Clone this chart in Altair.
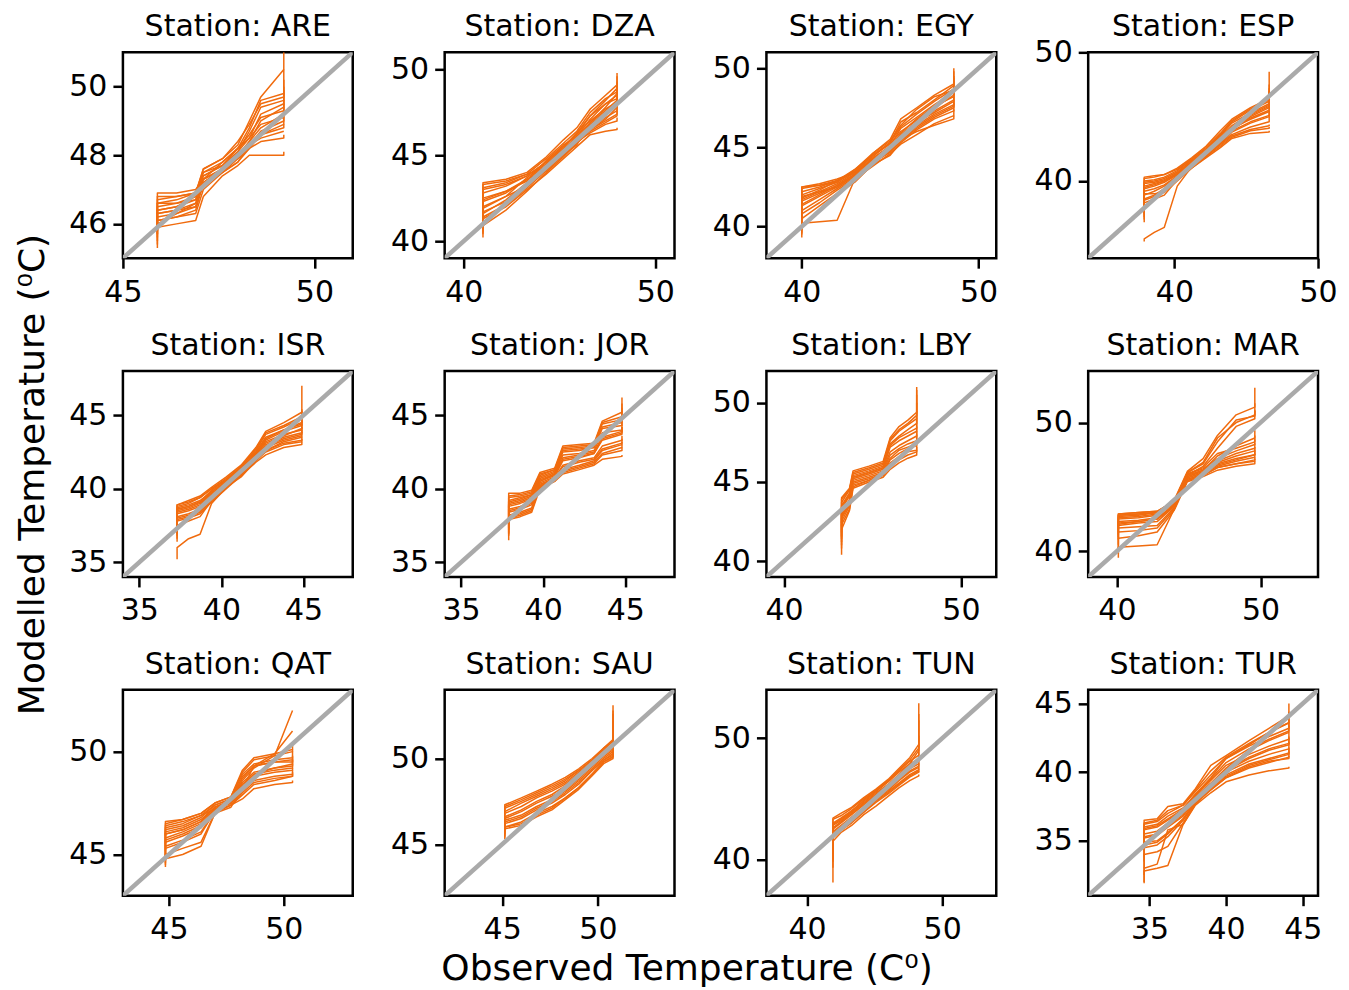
import altair as alt
import pandas as pd

ORANGE = "#f06b0e"
GREY = "#aaaaaa"
FONT = "DejaVu Sans"

STATIONS = ["ARE", "DZA", "EGY", "ESP", "ISR", "JOR", "LBY", "MAR", "QAT", "SAU", "TUN", "TUR"]
X_TITLE = "Observed Temperature (C\u2070)"
Y_TITLE = "Modelled Temperature (\u2070C)"

# ---------------- ARE ----------------
ARE_LIM = [45, 51]
ARE_XTICKS = [45, 50]
ARE_YTICKS = [46, 48, 50]
ARE_X = [45.9, 45.9, 46.4, 46.9, 47.1, 47.6, 48.0, 48.3, 48.6, 49.2, 49.2]
ARE_Y = [
    [45.3, 46.1, 46.2, 46.4, 47.2, 47.5, 47.8, 48.2, 48.6, 48.9, 49.4],
    [45.8, 46.3, 46.4, 46.6, 47.3, 47.6, 47.9, 48.4, 49.0, 49.4, 49.8],
    [46.1, 46.5, 46.6, 46.7, 47.4, 47.7, 48.1, 48.7, 49.4, 49.6, 50.2],
    [46.0, 46.9, 46.9, 47.0, 47.3, 47.8, 48.2, 48.8, 49.6, 49.8, 50.5],
    [45.6, 45.9, 46.0, 46.1, 46.8, 47.4, 47.7, 48.0, 48.0, 48.0, 48.1],
    [46.2, 46.6, 46.7, 46.9, 47.5, 47.7, 48.2, 48.5, 48.9, 49.1, 49.2],
    [45.5, 46.2, 46.3, 46.5, 47.2, 47.6, 48.0, 48.3, 48.5, 48.7, 48.7],
    [46.3, 46.7, 46.8, 46.9, 47.6, 47.9, 48.3, 49.0, 49.7, 50.5, 51.0],
    [45.7, 46.4, 46.5, 46.8, 47.3, 47.6, 48.0, 48.4, 48.8, 49.2, 49.6],
    [45.9, 46.1, 46.2, 46.3, 47.0, 47.5, 47.9, 48.2, 48.4, 48.5, 48.6],
    [45.4, 46.0, 46.3, 46.6, 47.1, 47.5, 47.8, 48.3, 48.7, 49.0, 49.1],
    [46.0, 46.4, 46.5, 46.7, 47.5, 47.8, 48.2, 48.6, 49.1, 49.3, 49.5],
    [45.7, 46.6, 46.6, 46.8, 47.4, 47.7, 48.1, 48.5, 49.2, 49.5, 49.9],
    [46.1, 46.8, 46.8, 46.9, 47.6, 47.9, 48.4, 48.9, 49.5, 49.7, 50.0],
    [45.8, 46.3, 46.4, 46.5, 47.2, 47.6, 48.0, 48.3, 48.6, 48.8, 48.9],
]

# ---------------- DZA ----------------
DZA_LIM = [39, 51]
DZA_XTICKS = [40, 50]
DZA_YTICKS = [40, 45, 50]
DZA_X = [41.0, 41.0, 42.2, 43.3, 44.3, 45.2, 45.9, 46.6, 47.4, 48.0, 48.0]
DZA_Y = [
    [40.2, 40.9, 41.8, 42.9, 44.0, 44.9, 45.7, 46.4, 46.9, 47.3, 47.6],
    [40.6, 41.6, 42.4, 43.4, 44.4, 45.2, 46.0, 46.8, 47.5, 48.0, 48.6],
    [41.2, 42.3, 42.8, 43.6, 44.1, 45.0, 45.6, 46.9, 47.8, 48.6, 49.2],
    [41.8, 42.8, 43.2, 43.8, 44.6, 45.5, 46.2, 47.3, 48.2, 48.9, 49.8],
    [42.0, 43.3, 43.5, 43.9, 44.3, 45.3, 45.8, 46.3, 46.8, 47.0, 47.2],
    [40.9, 42.0, 42.6, 43.2, 44.2, 45.1, 45.9, 46.6, 47.2, 47.6, 48.1],
    [41.5, 42.5, 42.9, 43.5, 44.7, 45.6, 46.1, 47.1, 48.0, 48.3, 48.9],
    [40.4, 41.3, 42.0, 43.0, 43.9, 44.8, 45.5, 46.2, 46.4, 46.5, 46.6],
    [41.0, 41.9, 42.6, 43.7, 44.5, 45.4, 46.3, 47.0, 47.7, 48.1, 48.4],
    [42.2, 43.1, 43.4, 43.9, 44.8, 45.7, 46.4, 47.5, 48.3, 48.7, 49.3],
    [40.5, 41.4, 42.1, 43.1, 44.1, 45.0, 45.8, 46.5, 47.0, 47.4, 47.9],
    [41.4, 42.4, 42.9, 43.6, 44.4, 45.3, 46.1, 46.9, 47.6, 48.2, 48.7],
    [41.9, 43.0, 43.3, 43.8, 44.6, 45.5, 46.3, 47.3, 48.0, 48.5, 49.0],
    [40.7, 41.7, 42.3, 43.3, 44.2, 45.1, 45.7, 46.5, 47.1, 47.8, 48.3],
    [42.4, 43.4, 43.6, 44.0, 44.9, 45.9, 46.6, 47.7, 48.5, 49.1, 49.6],
]

# ---------------- EGY ----------------
EGY_LIM = [38, 51]
EGY_XTICKS = [40, 50]
EGY_YTICKS = [40, 45, 50]
EGY_X = [40.0, 40.0, 41.0, 42.0, 43.0, 44.0, 45.0, 45.6, 46.5, 47.5, 48.6, 48.6]
EGY_Y = [
    [39.3, 40.5, 41.3, 42.1, 42.8, 43.9, 44.5, 45.3, 46.1, 46.8, 47.3, 47.8],
    [39.8, 41.0, 41.7, 42.4, 43.1, 44.1, 44.9, 45.7, 46.5, 47.3, 48.0, 48.6],
    [40.4, 41.6, 42.1, 42.6, 43.3, 44.3, 45.1, 46.2, 46.9, 47.7, 48.5, 49.2],
    [41.0, 42.0, 42.4, 42.8, 43.5, 44.4, 45.3, 46.6, 47.2, 48.0, 48.9, 50.0],
    [41.5, 42.5, 42.7, 43.0, 43.4, 44.2, 44.8, 45.5, 46.0, 46.4, 46.8, 47.0],
    [40.1, 41.3, 41.9, 42.5, 43.2, 44.0, 44.7, 45.4, 46.3, 47.0, 47.6, 48.2],
    [40.7, 41.8, 42.3, 42.9, 43.6, 44.5, 45.2, 46.0, 46.7, 47.5, 48.3, 48.8],
    [39.5, 40.2, 40.3, 40.4, 43.0, 43.8, 44.6, 45.2, 45.8, 46.5, 47.0, 47.4],
    [41.2, 42.2, 42.5, 42.9, 43.4, 44.6, 45.4, 46.4, 47.4, 48.2, 48.6, 49.8],
    [40.2, 41.4, 42.0, 42.6, 43.3, 44.2, 44.9, 45.8, 46.6, 47.2, 47.9, 48.4],
    [39.6, 40.8, 41.5, 42.3, 43.0, 44.0, 44.8, 45.6, 46.4, 47.1, 47.7, 48.0],
    [40.5, 41.7, 42.2, 42.7, 43.4, 44.3, 45.0, 45.9, 46.8, 47.6, 48.2, 48.7],
    [41.3, 42.4, 42.6, 42.9, 43.5, 44.5, 45.3, 46.3, 47.1, 47.9, 48.7, 49.4],
    [40.9, 41.9, 42.2, 42.5, 43.2, 44.1, 44.7, 45.4, 46.2, 46.9, 47.5, 47.9],
    [42.0, 42.5, 42.6, 42.8, 43.6, 44.6, 45.5, 46.8, 47.5, 48.3, 49.0, 49.5],
]

# ---------------- ESP ----------------
ESP_LIM = [34, 50]
ESP_XTICKS = [40, 50]
ESP_YTICKS = [40, 50]
ESP_X = [37.9, 37.9, 38.6, 39.3, 40.2, 41.2, 42.2, 43.2, 44.0, 45.3, 46.6, 46.6]
ESP_Y = [
    [37.4, 38.9, 39.2, 39.6, 40.3, 41.2, 42.0, 42.9, 43.6, 44.2, 44.6, 45.0],
    [38.0, 39.4, 39.6, 39.9, 40.5, 41.4, 42.2, 43.2, 44.1, 44.8, 45.4, 46.0],
    [38.6, 39.9, 40.0, 40.2, 40.7, 41.6, 42.4, 43.5, 44.5, 45.3, 46.0, 47.0],
    [39.0, 40.2, 40.3, 40.5, 41.0, 41.8, 42.7, 43.9, 44.8, 45.7, 46.4, 48.5],
    [37.6, 39.0, 39.0, 39.1, 40.0, 41.0, 41.8, 42.6, 43.3, 43.7, 43.8, 43.9],
    [35.3, 35.5, 36.0, 36.4, 39.6, 41.1, 41.9, 42.9, 43.8, 44.5, 45.0, 45.5],
    [36.8, 38.3, 38.6, 38.9, 40.1, 41.3, 42.1, 43.1, 44.0, 45.0, 45.7, 46.3],
    [38.3, 39.6, 39.8, 40.0, 40.6, 41.5, 42.3, 43.3, 44.2, 45.1, 45.8, 46.5],
    [38.8, 40.0, 40.1, 40.3, 40.8, 41.7, 42.5, 43.6, 44.6, 45.5, 46.2, 47.5],
    [37.2, 38.6, 38.9, 39.4, 40.2, 41.1, 42.0, 42.8, 43.5, 44.0, 44.3, 44.4],
    [37.8, 39.2, 39.4, 39.7, 40.4, 41.3, 42.1, 43.0, 43.9, 44.6, 45.1, 45.4],
    [38.4, 39.8, 39.9, 40.1, 40.6, 41.5, 42.3, 43.4, 44.3, 45.2, 45.9, 46.4],
    [39.1, 40.3, 40.4, 40.5, 40.9, 41.7, 42.6, 43.7, 44.7, 45.6, 46.3, 47.2],
    [37.0, 38.5, 38.8, 39.2, 40.1, 41.0, 41.9, 42.7, 43.4, 43.9, 44.1, 44.2],
    [38.2, 39.5, 39.7, 40.0, 40.5, 41.4, 42.2, 43.2, 44.0, 44.9, 45.5, 45.8],
]

# ---------------- ISR ----------------
ISR_LIM = [34, 48]
ISR_XTICKS = [35, 40, 45]
ISR_YTICKS = [35, 40, 45]
ISR_X = [37.3, 37.3, 38.0, 38.7, 39.4, 40.3, 41.2, 42.1, 42.7, 43.8, 44.9, 44.9]
ISR_Y = [
    [36.6, 37.8, 38.0, 38.3, 39.1, 40.0, 40.9, 41.8, 42.3, 42.8, 43.0, 43.2],
    [37.2, 38.3, 38.5, 38.8, 39.5, 40.3, 41.1, 42.2, 43.0, 43.5, 43.8, 44.2],
    [37.8, 38.7, 38.9, 39.2, 39.8, 40.5, 41.4, 42.5, 43.5, 44.0, 44.4, 45.0],
    [38.3, 38.9, 39.2, 39.5, 40.1, 40.8, 41.6, 42.8, 43.9, 44.5, 45.2, 47.0],
    [35.2, 36.0, 36.6, 36.9, 39.0, 40.1, 40.8, 41.9, 42.6, 43.2, 43.5, 43.6],
    [36.9, 38.0, 38.2, 38.5, 39.3, 40.2, 41.0, 42.0, 42.8, 43.3, 43.6, 43.9],
    [37.5, 38.5, 38.7, 39.0, 39.7, 40.4, 41.3, 42.4, 43.3, 43.9, 44.3, 44.7],
    [38.0, 38.8, 39.0, 39.4, 40.0, 40.6, 41.5, 42.6, 43.7, 44.2, 44.8, 45.4],
    [36.4, 37.5, 37.8, 38.1, 39.2, 40.1, 41.0, 41.9, 42.5, 43.0, 43.2, 43.4],
    [37.6, 38.6, 38.8, 39.1, 39.9, 40.6, 41.4, 42.3, 43.2, 43.7, 44.0, 44.4],
    [37.0, 38.1, 38.3, 38.6, 39.4, 40.2, 41.0, 42.1, 42.9, 43.4, 43.7, 44.0],
    [37.7, 38.6, 38.8, 39.1, 39.8, 40.5, 41.3, 42.4, 43.4, 44.0, 44.5, 44.9],
    [38.2, 38.9, 39.1, 39.4, 40.0, 40.7, 41.5, 42.7, 43.8, 44.3, 44.9, 45.3],
    [36.8, 37.9, 38.1, 38.4, 39.2, 40.1, 40.9, 41.9, 42.6, 43.1, 43.3, 43.5],
    [37.4, 38.4, 38.6, 38.9, 39.6, 40.4, 41.2, 42.3, 43.1, 43.6, 44.1, 44.6],
]

# ---------------- JOR ----------------
JOR_LIM = [34, 48]
JOR_XTICKS = [35, 40, 45]
JOR_YTICKS = [35, 40, 45]
JOR_X = [37.9, 37.9, 38.6, 39.3, 39.8, 40.7, 41.2, 42.2, 43.1, 43.6, 44.8, 44.8]
JOR_Y = [
    [36.5, 37.9, 38.1, 38.4, 40.0, 40.5, 41.0, 41.3, 41.6, 42.0, 42.2, 42.3],
    [37.2, 38.4, 38.6, 38.9, 40.3, 40.7, 41.6, 41.9, 42.1, 42.9, 43.3, 43.6],
    [37.8, 38.9, 39.1, 39.4, 40.6, 41.0, 42.3, 42.4, 42.6, 43.8, 44.0, 44.5],
    [38.4, 39.4, 39.5, 39.7, 40.9, 41.3, 42.7, 42.8, 42.9, 44.4, 44.7, 45.5],
    [38.7, 39.7, 39.7, 39.9, 41.1, 41.4, 42.9, 43.0, 43.1, 44.6, 45.2, 46.2],
    [37.0, 38.2, 38.4, 38.7, 40.1, 40.6, 41.3, 41.6, 41.9, 42.6, 43.0, 43.2],
    [37.5, 38.6, 38.8, 39.1, 40.4, 40.8, 41.9, 42.1, 42.4, 43.3, 43.7, 44.0],
    [38.1, 39.1, 39.3, 39.6, 40.7, 41.1, 42.5, 42.6, 42.8, 44.1, 44.3, 44.9],
    [36.8, 38.0, 38.2, 38.5, 40.2, 40.6, 41.1, 41.4, 41.7, 42.3, 42.6, 42.8],
    [37.9, 39.0, 39.2, 39.5, 40.5, 41.0, 42.1, 42.3, 42.5, 43.5, 43.9, 44.2],
    [37.3, 38.5, 38.7, 39.0, 40.2, 40.7, 41.5, 41.8, 42.0, 42.7, 43.1, 43.4],
    [37.7, 38.8, 39.0, 39.3, 40.5, 40.9, 42.0, 42.2, 42.4, 43.4, 43.8, 44.2],
    [38.2, 39.2, 39.4, 39.6, 40.8, 41.2, 42.6, 42.7, 42.8, 44.2, 44.5, 45.0],
    [38.5, 39.5, 39.6, 39.8, 41.0, 41.3, 42.8, 42.9, 43.0, 44.5, 44.9, 45.8],
    [36.9, 38.1, 38.3, 38.6, 40.1, 40.5, 41.2, 41.5, 41.8, 42.4, 42.8, 43.0],
]

# ---------------- LBY ----------------
LBY_LIM = [39, 52]
LBY_XTICKS = [40, 50]
LBY_YTICKS = [40, 45, 50]
LBY_X = [43.25, 43.25, 43.7, 43.9, 44.8, 45.6, 46.0, 46.5, 47.0, 47.5, 47.5]
LBY_Y = [
    [40.4, 42.0, 43.2, 44.6, 45.0, 45.3, 45.8, 46.2, 46.5, 46.7, 47.0],
    [41.2, 42.8, 43.7, 45.0, 45.3, 45.6, 46.5, 47.0, 47.2, 47.4, 48.0],
    [41.8, 43.3, 44.1, 45.3, 45.6, 45.9, 47.2, 47.6, 47.9, 48.2, 49.0],
    [42.4, 43.7, 44.5, 45.6, 45.9, 46.2, 47.6, 48.2, 48.6, 49.0, 51.0],
    [41.0, 42.5, 43.5, 44.8, 45.1, 45.5, 46.2, 46.6, 46.9, 47.0, 47.3],
    [41.6, 43.0, 43.9, 45.2, 45.5, 45.8, 46.9, 47.3, 47.6, 47.9, 48.5],
    [42.2, 43.5, 44.3, 45.4, 45.7, 46.0, 47.4, 47.9, 48.3, 48.7, 50.5],
    [42.8, 44.0, 44.6, 45.7, 46.0, 46.3, 47.8, 48.5, 48.9, 49.4, 50.0],
    [40.8, 42.3, 43.3, 44.7, 45.1, 45.4, 46.0, 46.4, 46.7, 46.9, 47.2],
    [41.4, 42.9, 43.8, 45.1, 45.4, 45.7, 46.7, 47.1, 47.4, 47.6, 48.2],
    [42.0, 43.4, 44.2, 45.3, 45.6, 45.9, 47.3, 47.8, 48.1, 48.4, 49.5],
    [42.6, 43.9, 44.5, 45.5, 45.8, 46.1, 47.7, 48.3, 48.7, 49.2, 50.8],
    [41.5, 42.7, 43.6, 44.9, 45.2, 45.5, 46.4, 46.8, 47.1, 47.3, 47.6],
]

# ---------------- MAR ----------------
MAR_LIM = [38, 54]
MAR_XTICKS = [40, 50]
MAR_YTICKS = [40, 50]
MAR_X = [40.1, 40.1, 41.5, 42.8, 44.0, 44.9, 46.0, 47.0, 48.3, 49.6, 49.6]
MAR_Y = [
    [39.5, 41.0, 41.2, 41.5, 43.2, 45.4, 45.8, 46.3, 46.6, 46.8, 47.0],
    [40.5, 41.8, 41.9, 42.0, 43.4, 45.6, 46.0, 46.6, 47.0, 47.3, 47.6],
    [41.3, 42.3, 42.4, 42.6, 43.6, 45.8, 46.2, 46.9, 47.4, 47.8, 48.1],
    [41.8, 42.7, 42.8, 43.0, 43.8, 46.0, 46.4, 47.2, 47.8, 48.3, 48.7],
    [42.2, 42.9, 43.0, 43.1, 43.9, 46.1, 46.8, 48.5, 50.2, 50.5, 51.0],
    [41.6, 42.5, 42.6, 42.8, 43.7, 45.9, 46.6, 48.0, 49.7, 50.3, 51.5],
    [40.9, 42.0, 42.2, 42.3, 43.5, 45.7, 46.1, 46.8, 47.2, 47.5, 47.8],
    [39.8, 40.3, 40.4, 40.5, 43.3, 45.5, 45.9, 46.5, 46.8, 47.0, 47.2],
    [42.0, 42.8, 42.9, 43.0, 44.0, 46.2, 47.2, 49.0, 50.6, 51.2, 52.7],
    [41.0, 42.1, 42.3, 42.5, 43.6, 45.8, 46.3, 47.4, 48.2, 48.8, 49.4],
    [40.2, 41.5, 41.6, 41.8, 43.3, 45.5, 45.9, 46.5, 46.8, 47.1, 47.3],
    [41.1, 42.2, 42.3, 42.5, 43.5, 45.7, 46.1, 46.7, 47.1, 47.5, 47.9],
    [41.5, 42.6, 42.7, 42.9, 43.7, 45.9, 46.3, 47.0, 47.6, 48.0, 48.4],
    [42.1, 42.9, 43.0, 43.1, 43.9, 46.1, 46.9, 48.8, 50.0, 50.6, 50.9],
    [41.9, 42.8, 42.9, 43.0, 43.8, 46.0, 46.5, 47.6, 48.0, 48.5, 49.0],
]

# ---------------- QAT ----------------
QAT_LIM = [43, 53]
QAT_XTICKS = [45, 50]
QAT_YTICKS = [45, 50]
QAT_X = [44.85, 44.85, 45.6, 46.4, 47.0, 47.7, 48.2, 48.7, 49.6, 50.38, 50.38]
QAT_Y = [
    [44.4, 45.0, 45.3, 45.6, 47.0, 47.4, 47.7, 48.2, 48.4, 48.5, 48.6],
    [44.8, 45.6, 45.9, 46.3, 47.2, 47.5, 48.1, 48.6, 48.8, 48.9, 49.1],
    [45.2, 46.0, 46.2, 46.6, 47.3, 47.6, 48.5, 49.0, 49.2, 49.3, 49.6],
    [45.6, 46.3, 46.5, 46.9, 47.4, 47.7, 48.9, 49.4, 49.6, 49.7, 50.0],
    [46.0, 46.6, 46.7, 47.0, 47.5, 47.8, 49.1, 49.7, 49.9, 50.1, 50.3],
    [44.6, 45.3, 45.6, 46.0, 47.1, 47.4, 47.9, 48.4, 48.6, 48.8, 48.9],
    [45.4, 46.1, 46.3, 46.7, 47.3, 47.6, 48.6, 49.2, 49.8, 52.0, 52.0],
    [44.5, 44.8, 45.0, 45.4, 47.0, 47.3, 48.2, 49.3, 49.9, 51.0, 51.0],
    [45.8, 46.4, 46.6, 46.9, 47.2, 47.5, 48.8, 49.3, 49.5, 49.5, 49.6],
    [44.9, 45.7, 46.0, 46.4, 47.2, 47.5, 48.3, 48.8, 49.0, 49.1, 49.2],
    [44.7, 45.4, 45.7, 46.1, 47.1, 47.4, 48.0, 48.5, 48.7, 48.8, 49.0],
    [45.0, 45.8, 46.1, 46.5, 47.2, 47.5, 48.4, 48.9, 49.1, 49.2, 49.4],
    [45.5, 46.2, 46.4, 46.8, 47.4, 47.7, 48.7, 49.3, 49.5, 49.6, 49.8],
    [45.9, 46.5, 46.7, 47.0, 47.5, 47.8, 49.0, 49.6, 49.8, 50.0, 50.1],
    [45.3, 46.0, 46.2, 46.6, 47.3, 47.6, 48.4, 48.9, 49.2, 49.4, 49.7],
]

# ---------------- SAU ----------------
SAU_LIM = [42, 54]
SAU_XTICKS = [45, 50]
SAU_YTICKS = [45, 50]
SAU_X = [45.14, 45.14, 46.0, 46.8, 47.6, 48.3, 49.0, 49.7, 50.3, 50.79, 50.79]
SAU_Y = [
    [45.3, 45.9, 46.1, 46.6, 47.0, 47.6, 48.2, 49.0, 49.7, 50.0, 50.3],
    [45.6, 46.2, 46.5, 47.0, 47.4, 47.9, 48.5, 49.3, 49.9, 50.2, 50.8],
    [45.9, 46.5, 46.9, 47.4, 47.8, 48.2, 48.8, 49.5, 50.1, 50.5, 51.5],
    [46.3, 46.8, 47.2, 47.7, 48.1, 48.5, 49.1, 49.7, 50.3, 50.7, 52.2],
    [46.7, 47.1, 47.5, 47.9, 48.3, 48.7, 49.3, 49.9, 50.5, 51.0, 53.1],
    [47.0, 47.3, 47.7, 48.1, 48.5, 48.9, 49.4, 50.0, 50.6, 51.1, 52.6],
    [45.5, 46.0, 46.3, 46.8, 47.2, 47.7, 48.3, 49.1, 49.8, 50.1, 50.6],
    [46.1, 46.6, 47.0, 47.5, 47.9, 48.4, 49.0, 49.6, 50.2, 50.6, 51.8],
    [45.4, 46.0, 46.2, 46.7, 47.1, 47.7, 48.3, 49.1, 49.8, 50.1, 50.5],
    [45.8, 46.4, 46.7, 47.2, 47.6, 48.1, 48.7, 49.4, 50.0, 50.4, 51.1],
    [46.5, 46.9, 47.4, 47.8, 48.2, 48.6, 49.2, 49.8, 50.4, 50.8, 52.8],
    [46.9, 47.2, 47.6, 48.0, 48.4, 48.8, 49.3, 49.9, 50.6, 51.0, 51.9],
    [45.7, 46.3, 46.6, 47.1, 47.5, 48.0, 48.6, 49.3, 49.9, 50.3, 50.9],
]

# ---------------- TUN ----------------
TUN_LIM = [37, 54]
TUN_XTICKS = [40, 50]
TUN_YTICKS = [40, 50]
TUN_X = [41.92, 41.92, 42.5, 43.3, 44.2, 45.1, 46.0, 46.8, 47.6, 48.27, 48.27]
TUN_Y = [
    [38.1, 41.5, 42.2, 42.8, 43.7, 44.4, 45.2, 45.9, 46.5, 46.9, 47.0],
    [40.0, 42.0, 42.6, 43.3, 44.1, 44.9, 45.6, 46.3, 47.0, 47.4, 47.6],
    [41.2, 42.5, 43.0, 43.7, 44.5, 45.3, 46.0, 46.8, 47.5, 47.9, 48.2],
    [41.8, 43.0, 43.4, 44.0, 44.8, 45.6, 46.4, 47.2, 47.9, 48.3, 49.5],
    [42.0, 43.4, 43.8, 44.3, 45.1, 45.8, 46.6, 47.5, 48.4, 49.5, 52.9],
    [39.3, 41.8, 42.4, 43.0, 43.9, 44.7, 45.4, 46.1, 46.8, 47.2, 47.3],
    [40.8, 42.3, 42.8, 43.5, 44.3, 45.1, 45.8, 46.6, 47.3, 47.7, 48.0],
    [41.5, 42.8, 43.2, 43.9, 44.7, 45.5, 46.2, 47.0, 47.9, 49.0, 51.5],
    [39.8, 41.9, 42.4, 43.1, 43.9, 44.8, 45.5, 46.2, 46.9, 47.3, 47.5],
    [40.5, 42.2, 42.7, 43.4, 44.2, 45.0, 45.7, 46.5, 47.2, 47.6, 47.9],
    [41.4, 42.6, 43.1, 43.8, 44.6, 45.4, 46.1, 46.9, 47.7, 48.1, 48.5],
    [41.7, 42.9, 43.3, 44.0, 44.9, 45.7, 46.5, 47.3, 48.1, 48.6, 50.2],
    [42.1, 43.3, 43.6, 44.2, 45.0, 45.7, 46.5, 47.4, 48.2, 49.2, 52.0],
]

# ---------------- TUR ----------------
TUR_LIM = [31, 46]
TUR_XTICKS = [35, 40, 45]
TUR_YTICKS = [35, 40, 45]
TUR_X = [34.65, 34.65, 35.5, 36.2, 37.2, 38.0, 39.0, 40.0, 41.5, 42.8, 44.1, 44.1]
TUR_Y = [
    [31.9, 33.0, 33.3, 35.8, 36.2, 37.6, 38.5, 39.3, 39.8, 40.1, 40.3, 40.4],
    [33.0, 34.5, 34.7, 35.3, 36.5, 37.8, 38.7, 39.6, 40.3, 40.7, 41.1, 41.5],
    [34.2, 35.2, 35.4, 36.0, 36.8, 38.0, 39.0, 40.0, 40.8, 41.3, 41.7, 42.2],
    [35.0, 35.8, 36.0, 36.5, 37.2, 38.3, 39.4, 40.5, 41.3, 41.9, 42.4, 42.9],
    [35.5, 36.2, 36.4, 37.0, 37.6, 38.6, 39.8, 41.0, 41.9, 42.6, 43.2, 43.8],
    [35.8, 36.5, 36.6, 37.5, 37.7, 38.8, 40.5, 41.2, 42.3, 43.2, 44.1, 45.0],
    [33.8, 34.9, 35.0, 35.6, 36.6, 37.9, 38.9, 39.8, 40.6, 41.0, 41.4, 41.8],
    [32.5, 34.0, 34.2, 34.6, 36.3, 37.7, 38.8, 40.1, 41.0, 41.6, 42.0, 42.5],
    [34.6, 35.5, 35.7, 36.3, 37.0, 38.2, 39.2, 40.3, 41.6, 42.3, 42.9, 43.4],
    [35.3, 36.0, 36.2, 36.8, 37.4, 38.4, 39.6, 41.0, 42.0, 42.9, 43.6, 44.4],
    [33.5, 34.7, 34.9, 35.5, 36.6, 37.9, 38.8, 39.7, 40.5, 40.9, 41.3, 41.7],
    [34.4, 35.3, 35.5, 36.1, 36.9, 38.1, 39.1, 40.2, 41.1, 41.7, 42.1, 42.6],
    [35.1, 35.9, 36.1, 36.6, 37.3, 38.4, 39.5, 40.7, 41.7, 42.4, 43.0, 43.6],
    [35.6, 36.3, 36.5, 37.2, 37.6, 38.7, 40.1, 41.1, 42.1, 42.9, 43.6, 44.2],
    [32.0, 32.8, 33.0, 33.2, 36.2, 37.7, 38.7, 39.6, 40.4, 40.8, 41.0, 41.2],
]

PANELS = {
    "ARE": (ARE_LIM, ARE_XTICKS, ARE_YTICKS, ARE_X, ARE_Y),
    "DZA": (DZA_LIM, DZA_XTICKS, DZA_YTICKS, DZA_X, DZA_Y),
    "EGY": (EGY_LIM, EGY_XTICKS, EGY_YTICKS, EGY_X, EGY_Y),
    "ESP": (ESP_LIM, ESP_XTICKS, ESP_YTICKS, ESP_X, ESP_Y),
    "ISR": (ISR_LIM, ISR_XTICKS, ISR_YTICKS, ISR_X, ISR_Y),
    "JOR": (JOR_LIM, JOR_XTICKS, JOR_YTICKS, JOR_X, JOR_Y),
    "LBY": (LBY_LIM, LBY_XTICKS, LBY_YTICKS, LBY_X, LBY_Y),
    "MAR": (MAR_LIM, MAR_XTICKS, MAR_YTICKS, MAR_X, MAR_Y),
    "QAT": (QAT_LIM, QAT_XTICKS, QAT_YTICKS, QAT_X, QAT_Y),
    "SAU": (SAU_LIM, SAU_XTICKS, SAU_YTICKS, SAU_X, SAU_Y),
    "TUN": (TUN_LIM, TUN_XTICKS, TUN_YTICKS, TUN_X, TUN_Y),
    "TUR": (TUR_LIM, TUR_XTICKS, TUR_YTICKS, TUR_X, TUR_Y),
}

PW, PH = 230, 206


def make_panel(name):
    lim, xt, yt, xs, ys = PANELS[name]
    recs = []
    for k, yl in enumerate(ys):
        for i, (xv, yv) in enumerate(zip(xs, yl)):
            recs.append({"member": k, "step": i, "obs": xv, "mod": yv})
    df = pd.DataFrame(recs)
    diag = pd.DataFrame({"obs": lim, "mod": lim, "step": [0, 1]})
    lab = pd.DataFrame({"label": [f"Station: {name}"]})

    xs_ = alt.Scale(domain=lim, nice=False, zero=False)
    ys_ = alt.Scale(domain=lim, nice=False, zero=False)

    if name == "SAU":
        xax = alt.Axis(values=xt, title=X_TITLE, titleX=242, titleY=73,
                       titleAlign="center", titleBaseline="middle")
    else:
        xax = alt.Axis(values=xt, title=None)
    if name == "ISR":
        yax = alt.Axis(values=yt, title=Y_TITLE, titleX=-90, titleY=PH / 2,
                       titleAngle=270, titleAlign="center", titleBaseline="middle")
    else:
        yax = alt.Axis(values=yt, title=None)

    lines = alt.Chart(df).mark_line(
        color=ORANGE, strokeWidth=1.5, clip=True, strokeJoin="round"
    ).encode(
        x=alt.X("obs:Q", scale=xs_, axis=xax),
        y=alt.Y("mod:Q", scale=ys_, axis=yax),
        detail="member:N",
        order="step:Q",
    )
    one2one = alt.Chart(diag).mark_line(
        color=GREY, strokeWidth=4.5, clip=True
    ).encode(
        x=alt.X("obs:Q", scale=xs_),
        y=alt.Y("mod:Q", scale=ys_),
        order="step:Q",
    )
    title = alt.Chart(lab).mark_text(
        font=FONT, fontSize=30, color="black", align="center", baseline="alphabetic"
    ).encode(
        text="label:N",
        x=alt.value(PW / 2),
        y=alt.value(-16),
    )
    return alt.layer(lines, one2one, title).properties(width=PW, height=PH)


panels = [make_panel(s) for s in STATIONS]

chart = alt.concat(
    *panels, columns=4, spacing={"row": 113, "column": 92}, bounds="flush"
).properties(
    padding={"left": 5, "top": 2, "right": 2, "bottom": 0},
    background="white",
).configure_view(
    stroke="black", strokeWidth=2.5
).configure_axis(
    labelFont=FONT, labelFontSize=30, labelColor="black",
    tickColor="black", tickSize=10, tickWidth=2.5,
    domain=False, grid=False, labelFlush=False, labelOverlap=False,
    titleFont=FONT, titleFontSize=36, titleFontWeight="normal", titleColor="black",
).configure_axisX(
    labelPadding=9
).configure_axisY(
    labelPadding=6
)

chart.save("out.html", embed_options={"renderer": "svg", "actions": False})
